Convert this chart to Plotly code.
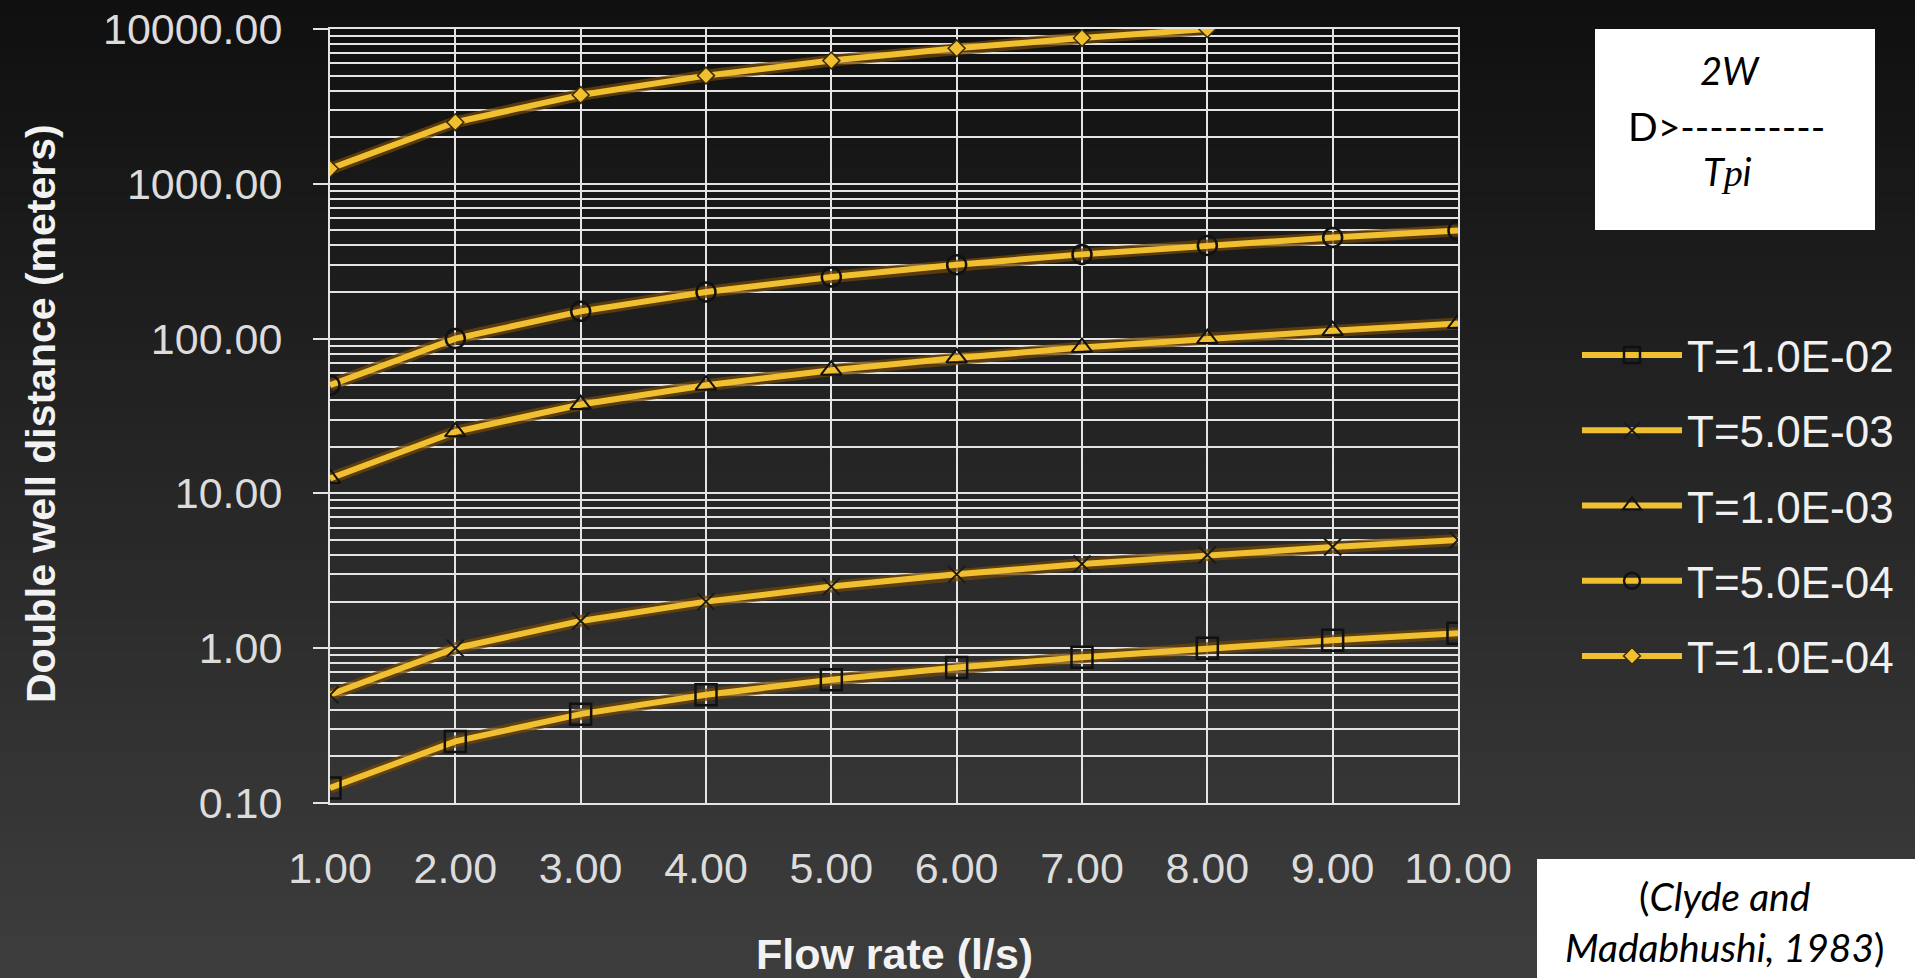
import plotly.graph_objects as go

# flow rate (l/s)
flow = [1, 2, 3, 4, 5, 6, 7, 8, 9, 10]

# double well distance (m) for each transmissivity
d_t1e2 = [0.125, 0.25, 0.375, 0.5, 0.625, 0.75, 0.875, 1.0, 1.125, 1.25]
d_t5e3 = [0.5, 1.0, 1.5, 2.0, 2.5, 3.0, 3.5, 4.0, 4.5, 5.0]
d_t1e3 = [12.5, 25, 37.5, 50, 62.5, 75, 87.5, 100, 112.5, 125]
d_t5e4 = [50, 100, 150, 200, 250, 300, 350, 400, 450, 500]
d_t1e4 = [1250, 2500, 3750, 5000, 6250, 7500, 8750, 10000]

series_names = ["T=1.0E-02", "T=5.0E-03", "T=1.0E-03", "T=5.0E-04", "T=1.0E-04"]
series_values = [d_t1e2, d_t5e3, d_t1e3, d_t5e4, d_t1e4]

x_tickvals = flow
x_ticktext = ["%.2f" % v for v in flow]
y_tickvals = [0.1, 1, 10, 100, 1000, 10000]
y_ticktext = ["0.10", "1.00", "10.00", "100.00", "1000.00", "10000.00"]
y_minor = [m * 10 ** k for k in range(-1, 4) for m in range(2, 10)]

W, H = 1915, 978
L, R, T, B = 330, 1458, 29, 803
GOLD = "#f0c030"
GRID = "#e4e4e4"


def px(x):
    return (x - L) / (R - L)


def py(y):
    return (B - y) / (B - T)


markers = [
    dict(symbol="square-open", size=21, color="#111111", line=dict(width=2.5, color="#111111")),
    dict(symbol="x-thin-open", size=17, color="#1a1a1a", line=dict(width=2, color="#1a1a1a")),
    dict(symbol="triangle-up-open", size=18, color="#111111", line=dict(width=2, color="#111111")),
    dict(symbol="circle-open", size=19, color="#111111", line=dict(width=2.5, color="#111111")),
    dict(symbol="diamond", size=13, color=GOLD, line=dict(width=1.5, color="#3a2a08")),
]

fig = go.Figure()

# dark glow under the lines
for vals in series_values:
    fig.add_trace(go.Scatter(x=flow[:len(vals)], y=vals, mode="lines",
                             line=dict(color="rgba(110,70,10,0.75)", width=12),
                             showlegend=False, hoverinfo="skip"))

for i, (name, vals) in enumerate(zip(series_names, series_values)):
    fig.add_trace(go.Scatter(x=flow[:len(vals)], y=vals, name=name, legendgroup=name,
                             mode="lines+markers", line=dict(color=GOLD, width=6),
                             marker=markers[i]))

# background gradient
shapes = []
n = 60
for k in range(n):
    y0 = k / n * H
    y1 = (k + 1) / n * H + 1
    c = int(16 + (62 - 16) * (k + 0.5) / n)
    shapes.append(dict(type="rect", xref="paper", yref="paper", layer="below",
                       x0=px(0), x1=px(W), y0=py(y1), y1=py(y0),
                       fillcolor="rgb(%d,%d,%d)" % (c, c, c), line=dict(width=0)))

# white boxes
shapes.append(dict(type="rect", xref="paper", yref="paper", layer="above",
                   x0=px(1595), x1=px(1875), y0=py(230), y1=py(29),
                   fillcolor="white", line=dict(width=0)))
shapes.append(dict(type="rect", xref="paper", yref="paper", layer="above",
                   x0=px(1537), x1=px(W + 5), y0=py(H + 5), y1=py(859),
                   fillcolor="white", line=dict(width=0)))

box_font = dict(family="Lato, Open Sans, sans-serif", size=38, color="black")
annotations = [
    dict(text="<i>2W</i>", x=px(1730), y=py(70), font=box_font),
    dict(text="D>----------", x=px(1726), y=py(126), font=dict(box_font, size=39)),
    dict(text="<i>T</i><span style='font-family:Liberation Serif'><i>p</i></span><i>i</i>",
         x=px(1727), y=py(171), font=box_font),
    dict(text="(<i>Clyde and</i><br><i>Madabhushi, 1983</i>)", x=px(1724), y=py(921),
         font=dict(family="Lato, Open Sans, sans-serif", size=39, color="black")),
    dict(text="<b>Double well distance (meters)</b>", textangle=-90, x=px(41), y=py(414),
         font=dict(family="Liberation Sans, Arial", size=41, color="#f2f2f2")),
    dict(text="<b>Flow rate (l/s)</b>", x=px(894), y=py(954),
         font=dict(family="Liberation Sans, Arial", size=43, color="#f2f2f2")),
]
for a in annotations:
    a.update(xref="paper", yref="paper", showarrow=False, xanchor="center", yanchor="middle")

tick_font = dict(family="Liberation Sans, Arial", size=43, color="#dcdcdc")

fig.update_layout(
    width=W, height=H,
    margin=dict(l=L, r=W - R, t=T, b=H - B, autoexpand=False),
    paper_bgcolor="#262626",
    plot_bgcolor="rgba(0,0,0,0)",
    shapes=shapes,
    annotations=annotations,
    showlegend=True,
    legend=dict(x=px(1577), y=py(320), xanchor="left", yanchor="top",
                bgcolor="rgba(0,0,0,0)", font=dict(family="Liberation Sans, Arial", size=44, color="#f0f0f0"),
                tracegroupgap=15, itemwidth=100, traceorder="grouped"),
    xaxis=dict(range=[1, 10], tickvals=x_tickvals, ticktext=x_ticktext, tickfont=tick_font,
               showgrid=True, gridcolor=GRID, gridwidth=2, zeroline=False,
               showline=True, mirror=True, linecolor=GRID, linewidth=2,
               ticks="", ticklabelstandoff=26),
    yaxis=dict(type="log", range=[-1, 4], tickvals=y_tickvals, ticktext=y_ticktext, tickfont=tick_font,
               showgrid=True, gridcolor=GRID, gridwidth=2, zeroline=False,
               showline=True, mirror=True, linecolor=GRID, linewidth=2,
               ticks="outside", ticklen=15, tickcolor=GRID, tickwidth=2, ticklabelstandoff=22,
               minor=dict(tickvals=y_minor, showgrid=True, gridcolor=GRID, gridwidth=2, ticks="")),
)

fig.write_html("out.html", config={"displayModeBar": False},
               post_script="document.body.style.margin='0';document.body.style.overflow='hidden';")
